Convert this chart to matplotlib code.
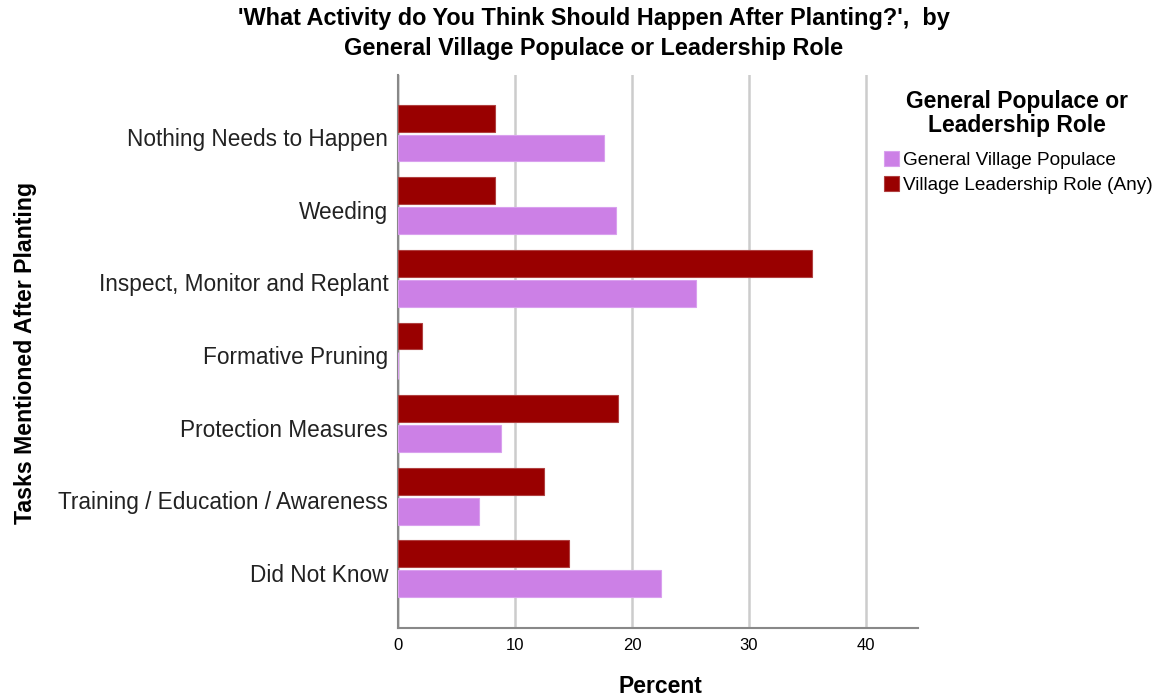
import numpy as np
import matplotlib.pyplot as plt

plt.rcParams['font.family'] = ['Liberation Sans', 'DejaVu Sans']

tasks = ['Nothing Needs to Happen', 'Weeding', 'Inspect, Monitor and Replant',
         'Formative Pruning', 'Protection Measures',
         'Training / Education / Awareness', 'Did Not Know']
general = [17.6, 18.6, 25.5, 0.0, 8.8, 6.9, 22.5]
leadership = [8.3, 8.3, 35.4, 2.1, 18.8, 12.5, 14.6]
series_names = ['General Village Populace', 'Village Leadership Role (Any)']
xticks = [0, 10, 20, 30, 40]

fig = plt.figure(figsize=(11.6, 6.98), dpi=100)
ax = fig.add_axes([0.343, 0.1003, 0.448, 0.7923])

y = np.arange(len(tasks))
h = 0.37
ax.barh(y + 0.15, general, height=h, color='#cc80e6', edgecolor='#d9a0ee',
        linewidth=0.8, label=series_names[0], zorder=3)
ax.barh(y - 0.26, leadership, height=h, color='#990000', edgecolor='#b04040',
        linewidth=0.8, label=series_names[1], zorder=3)

ax.set_ylim(6.76, -0.855)
ax.set_xlim(0, 44.4)
ax.set_yticks(y)
ax.set_yticklabels(tasks, fontsize=16.3, color='#222222')
ax.set_xticks(xticks)
ax.set_xticklabels([str(t) for t in xticks], fontsize=12)
ax.tick_params(axis='both', length=0)
ax.tick_params(axis='x', pad=7)
ax.tick_params(axis='y', pad=7)
ax.grid(axis='x', color='#cccccc', linewidth=1.8, zorder=0)
for s in ['top', 'right']:
    ax.spines[s].set_visible(False)
for s in ['left', 'bottom']:
    ax.spines[s].set_color('#888888')
    ax.spines[s].set_linewidth(1.5)

fig.text(0.569, 0.017, 'Percent', ha='center', va='center',
         fontsize=16.5, fontweight='bold')
fig.text(0.022, 0.494, 'Tasks Mentioned After Planting', rotation=90,
         ha='center', va='center', fontsize=16.7, fontweight='bold')

fig.text(0.512, 0.952, "'What Activity do You Think Should Happen After Planting?',  by\nGeneral Village Populace or Leadership Role",
         ha='center', va='center', fontsize=16.9, fontweight='bold', linespacing=1.35)

fig.text(0.8767, 0.8375, 'General Populace or\nLeadership Role', ha='center',
         va='center', fontsize=16.5, fontweight='bold', linespacing=1.05)

handles, labels = ax.get_legend_handles_labels()
leg = fig.legend(handles, labels, loc='upper left', bbox_to_anchor=(0.762, 0.783),
                 frameon=False, fontsize=13.7, handlelength=0.8, handleheight=0.8,
                 handletextpad=0.2, labelspacing=0.35, borderpad=0.0,
                 borderaxespad=0.0)

fig.savefig('out.png', dpi=100)
